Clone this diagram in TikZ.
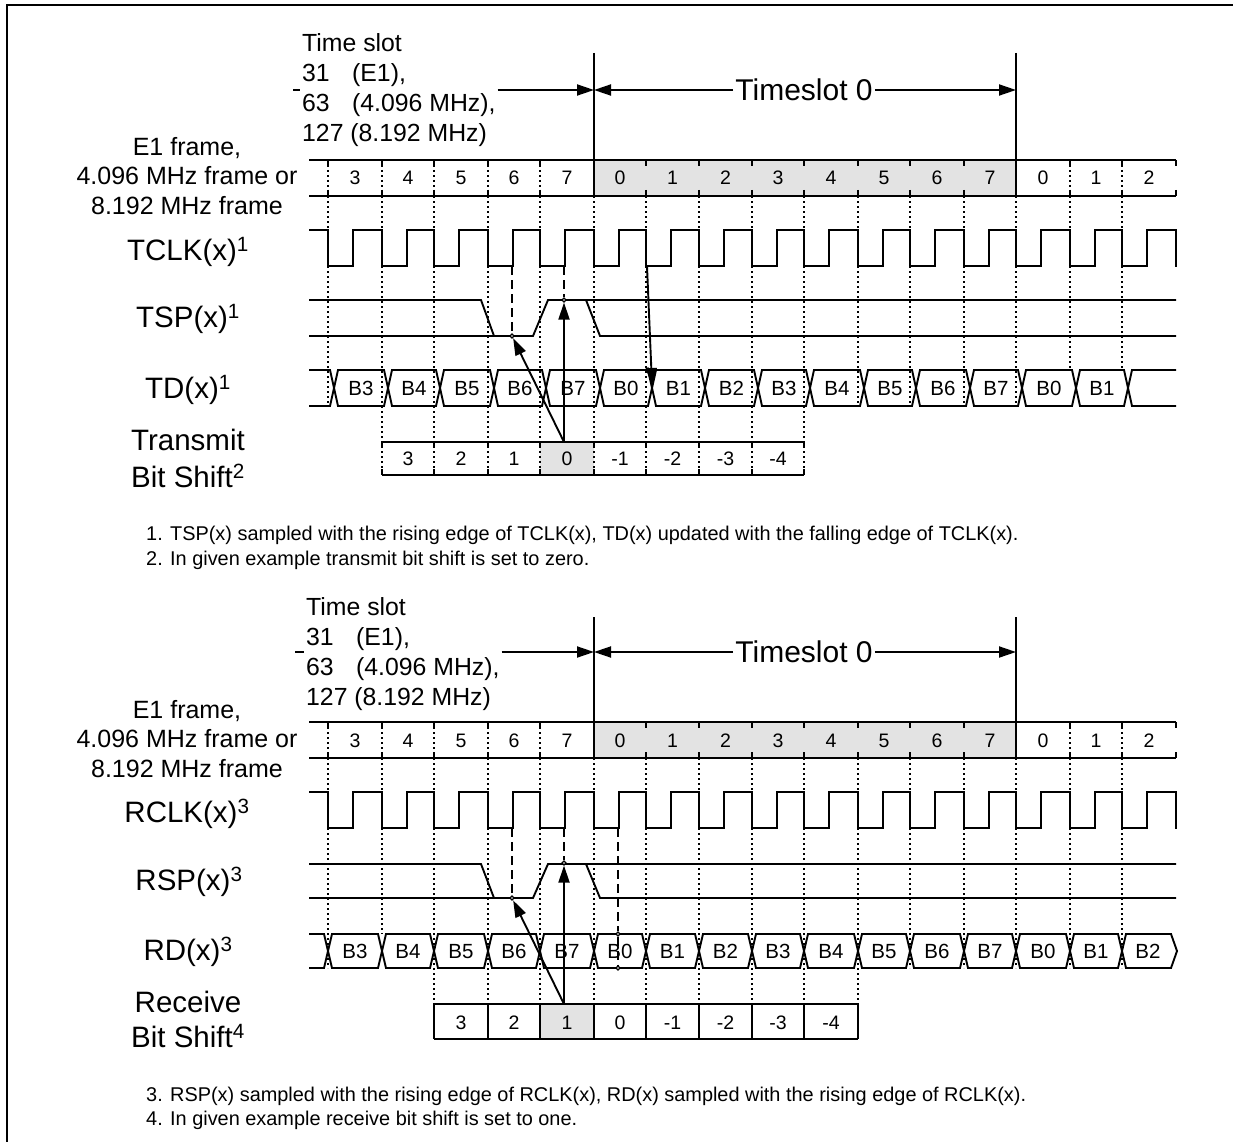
\documentclass[tikz,border=0pt]{standalone}
\usepackage{fontspec}
\setmainfont{Liberation Sans}
\usetikzlibrary{arrows.meta}
\newcommand{\framecells}{328/382/3,382/434/4,434/488/5,488/540/6,540/594/7,594/646/0,646/699/1,699/752/2,752/804/3,804/858/4,858/910/5,910/964/6,964/1016/7,1016/1070/0,1070/1122/1,1122/1176/2}
\begin{document}
\begin{tikzpicture}[
 x=1pt,y=-1pt,
 sig/.style={line width=1.9pt},
 dotgrid/.style={line width=1.9pt,dash pattern=on 2pt off 3pt},
 dashline/.style={line width=1.9pt,dash pattern=on 9pt off 5pt},
 headed/.style={-{Triangle[length=17pt,width=11pt]}},
 probe/.style={circle,draw,fill=white,line width=1.2pt,inner sep=1.4pt},
 cell/.style={inner sep=0pt,text height=14pt,text depth=0pt,font=\fontsize{19.5}{22}\selectfont},
 bit/.style={inner sep=0pt,text height=15pt,text depth=0pt,font=\fontsize{20.5}{24}\selectfont},
 signame/.style={inner sep=0pt,font=\fontsize{29.5}{36}\selectfont},
 slotnote/.style={inner sep=2pt,anchor=west,align=left,font=\fontsize{24.8}{30}\selectfont},
 framenote/.style={inner sep=0pt,align=center,font=\fontsize{25}{29.5}\selectfont},
 zeroname/.style={inner sep=2pt,fill=white,font=\fontsize{30}{36}\selectfont},
 footnote/.style={inner sep=0pt,anchor=west,font=\fontsize{19.9}{24}\selectfont}]
 \useasboundingbox (0,0) rectangle (1233,1142);
 % Outer rule.
 \draw[line width=2.5pt] (7,1142)--(7,5)--(1233,5);
 % Transmit side.
 \begin{scope}
  \fill[black!11] (594,160) rectangle (1016,196);
  \fill[black!11] (540,442) rectangle (594,475);
  \foreach \x in {328,382,434,488,540,1070,1122}{\draw[dotgrid] (\x,160)--(\x,196);}
  \foreach \x in {328,858,910,964,1016}{\draw[dotgrid] (\x,196)--(\x,406);}
  \foreach \x in {382,434,488,540,594,646,699,752,804}{\draw[dotgrid] (\x,196)--(\x,475);}
  \foreach \x in {1070,1122}{\draw[dotgrid] (\x,196)--(\x,370);}
  \draw[sig] (309,160)--(1176,160) (309,196)--(1176,196);
  \foreach \x in {328,382,434,488,540,646,699,752,804,858,910,964,1070,1122,1176}{
   \draw[sig] (\x,160)--(\x,166) (\x,190)--(\x,196);
  }
  \foreach \x/\n/\t in \framecells{\node[cell] (topslot\x) at ({(\x+\n)/2},178){\t};}
  % Slot boundaries.
  \node[slotnote] (topnote) at (300,90){Time slot\\\makebox[50pt][l]{31}(E1),\\\makebox[50pt][l]{63}(4.096 MHz),\\127 (8.192 MHz)};
  \node[zeroname] (topzero) at (804,90){Timeslot 0};
  \coordinate (topstub) at (293,90);
  \coordinate (topstart) at (594,53); \coordinate (topstop) at (1016,53);
  \coordinate (topmark) at (594,90); \coordinate (topend) at (1016,90);
  \draw[sig] (topstart)--(594,196) (topstop)--(1016,196);
  \draw[sig] (topstub)--(topstub-|topnote.west);
  \draw[sig,headed] (topstub-|topnote.east)--(topmark);
  \draw[sig,headed] (topzero.west)--(topmark);
  \draw[sig,headed] (topzero.east)--(topend);
  % TCLK.
  \draw[sig] (309,230)--(328,230)--(328,266);
  \foreach \x/\n/\t in \framecells{
   \draw[sig,line cap=rect] (\x,266)--(\x+25,266)--(\x+25,230)--(\n,230)--(\n,266);
  }
  % TSP.
  \draw[sig] (309,300)--(481,300)--(494,336);
  \draw[sig] (309,336)--(533,336)--(548,300)--(1176,300);
  \draw[sig] (586,300)--(600,336)--(1176,336);
  % TD.
  \draw[sig] (309,370)--(330,370)--(334,388)--(330,406)--(309,406);
  \foreach \x/\n/\t in {328/382/B3,382/434/B4,434/488/B5,488/540/B6,540/594/B7,594/646/B0,646/699/B1,699/752/B2,752/804/B3,804/858/B4,858/910/B5,910/964/B6,964/1016/B7,1016/1070/B0,1070/1122/B1}{
   \draw[sig] (\x+6,388)--(\x+10,370)--(\n+2,370)--(\n+6,388)--(\n+2,406)--(\x+10,406)--cycle;
   \node[bit] (topbit\x) at ({(\x+\n)/2+6},388){\t};
  }
  \draw[sig] (1176,370)--(1132,370)--(1128,388)--(1132,406)--(1176,406);
  % Transmit bit shift.
  \draw[sig] (382,442)--(804,442) (382,475)--(804,475);
  \foreach \x in {382,434,488,540,594,646,699,752,804}{
   \draw[sig] (\x,442)--(\x,448) (\x,469)--(\x,475);
  }
  \foreach \x/\n/\t in {382/434/3,434/488/2,488/540/1,540/594/0,594/646/-1,646/699/-2,699/752/-3,752/804/-4}{
   \node[cell] (topshift\x) at ({(\x+\n)/2},458){\t};
  }
  % Sampling marks.
  \node[probe] (topsix) at (512,336){};
  \node[probe] (topseven) at (564,300){};
  \node[probe] (topfall) at (648,370){};
  \coordinate (topsrc) at (564,442);
  \draw[dashline] (512,266)--(topsix);
  \draw[dashline] (564,266)--(topseven);
  \draw[sig,headed] (topsrc)--(topsix);
  \draw[sig,headed] (topsrc)--(topseven);
  \coordinate (topedge) at (647,266); \coordinate (tophit) at (652,385);
  \draw[sig,headed] (topedge)--(tophit);
  % Names on the left.
  \node[framenote] (topframe) at (187,176){E1 frame,\\4.096 MHz frame or\\8.192 MHz frame};
  \node[signame] (tclk) at (188,252){TCLK(x)\textsuperscript{1}};
  \node[signame] (tsp) at (188,319){TSP(x)\textsuperscript{1}};
  \node[signame] (td) at (188,390){TD(x)\textsuperscript{1}};
  \node[signame] (tshifta) at (188,440){Transmit};
  \node[signame] (tshiftb) at (188,476){Bit Shift\textsuperscript{2}};
  \node[footnote] (noteone) at (146,535){1. TSP(x) sampled with the rising edge of TCLK(x), TD(x) updated with the falling edge of TCLK(x).};
  \node[footnote] (notetwo) at (146,560){2. In given example transmit bit shift is set to zero.};
 \end{scope}
 % Receive side.
 \begin{scope}
  \fill[black!11] (594,722) rectangle (1016,758);
  \fill[black!11] (540,1004) rectangle (594,1039);
  \foreach \x in {328,382,434,488,540,1070,1122}{\draw[dotgrid] (\x,722)--(\x,758);}
  \draw[dotgrid] (328,758)--(328,968);
  \draw[dotgrid] (382,758)--(382,934);
  \foreach \x in {434,488,540,594,646,699,752,804,858}{\draw[dotgrid] (\x,758)--(\x,1004);}
  \foreach \x in {910,964,1016,1070,1122}{\draw[dotgrid] (\x,758)--(\x,968);}
  \draw[sig] (309,722)--(1176,722) (309,758)--(1176,758);
  \foreach \x in {328,382,434,488,540,646,699,752,804,858,910,964,1070,1122,1176}{
   \draw[sig] (\x,722)--(\x,728) (\x,752)--(\x,758);
  }
  \foreach \x/\n/\t in \framecells{\node[cell] (lowslot\x) at ({(\x+\n)/2},740){\t};}
  % Slot boundaries.
  \node[slotnote] (lownote) at (304,654.5){Time slot\\\makebox[50pt][l]{31}(E1),\\\makebox[50pt][l]{63}(4.096 MHz),\\127 (8.192 MHz)};
  \node[zeroname] (lowzero) at (804,652){Timeslot 0};
  \coordinate (lowstub) at (295,652);
  \coordinate (lowstart) at (594,617); \coordinate (lowstop) at (1016,617);
  \coordinate (lowmark) at (594,652); \coordinate (lowend) at (1016,652);
  \draw[sig] (lowstart)--(594,758) (lowstop)--(1016,758);
  \draw[sig] (lowstub)--(lowstub-|lownote.west);
  \draw[sig,headed] (lowstub-|lownote.east)--(lowmark);
  \draw[sig,headed] (lowzero.west)--(lowmark);
  \draw[sig,headed] (lowzero.east)--(lowend);
  % RCLK.
  \draw[sig] (309,792)--(328,792)--(328,828);
  \foreach \x/\n/\t in \framecells{
   \draw[sig,line cap=rect] (\x,828)--(\x+25,828)--(\x+25,792)--(\n,792)--(\n,828);
  }
  % RSP.
  \draw[sig] (309,864)--(481,864)--(494,898);
  \draw[sig] (309,898)--(533,898)--(548,864)--(1176,864);
  \draw[sig] (586,864)--(600,898)--(1176,898);
  % RD.
  \draw[sig] (309,934)--(324,934)--(328,951)--(324,968)--(309,968);
  \foreach \x/\n/\t in {328/382/B3,382/434/B4,434/488/B5,488/540/B6,540/594/B7,594/646/B0,646/699/B1,699/752/B2,752/804/B3,804/858/B4,858/910/B5,910/964/B6,964/1016/B7,1016/1070/B0,1070/1122/B1}{
   \draw[sig] (\x,951)--(\x+4,934)--(\n-4,934)--(\n,951)--(\n-4,968)--(\x+4,968)--cycle;
   \node[bit] (lowbit\x) at ({(\x+\n)/2},951){\t};
  }
  \draw[sig] (1122,951)--(1126,934)--(1171,934)--(1177,951)--(1171,968)--(1126,968)--cycle;
  \node[bit] (lowbit1122) at (1148,951){B2};
  % Receive bit shift.
  \draw[sig] (434,1004)--(858,1004) (434,1039)--(858,1039);
  \foreach \x in {434,488,540,594,646,699,752,804,858}{\draw[sig] (\x,1004)--(\x,1039);}
  \foreach \x/\n/\t in {434/488/3,488/540/2,540/594/1,594/646/0,646/699/-1,699/752/-2,752/804/-3,804/858/-4}{
   \node[cell] (lowshift\x) at ({(\x+\n)/2},1022){\t};
  }
  % Sampling marks.
  \node[probe] (lowsix) at (512,898){};
  \node[probe] (lowseven) at (564,863){};
  \node[probe] (lowtop) at (618,934){};
  \node[probe] (lowbot) at (618,968){};
  \coordinate (lowsrc) at (564,1004);
  \draw[dashline] (512,828)--(lowsix);
  \draw[dashline] (564,828)--(lowseven);
  \draw[dashline] (618,828)--(lowtop);
  \draw[dashline] (lowtop)--(lowbot);
  \draw[sig,headed] (lowsrc)--(lowsix);
  \draw[sig,headed] (lowsrc)--(lowseven);
  % Names on the left.
  \node[framenote] (lowframe) at (187,739){E1 frame,\\4.096 MHz frame or\\8.192 MHz frame};
  \node[signame] (rclk) at (187,814){RCLK(x)\textsuperscript{3}};
  \node[signame] (rsp) at (189,882){RSP(x)\textsuperscript{3}};
  \node[signame] (rd) at (188,952){RD(x)\textsuperscript{3}};
  \node[signame] (rshifta) at (188,1002){Receive};
  \node[signame] (rshiftb) at (188,1036){Bit Shift\textsuperscript{4}};
  \node[footnote] (notethree) at (146,1096){3. RSP(x) sampled with the rising edge of RCLK(x), RD(x) sampled with the rising edge of RCLK(x).};
  \node[footnote] (notefour) at (146,1120){4. In given example receive bit shift is set to one.};
 \end{scope}
\end{tikzpicture}
\end{document}
